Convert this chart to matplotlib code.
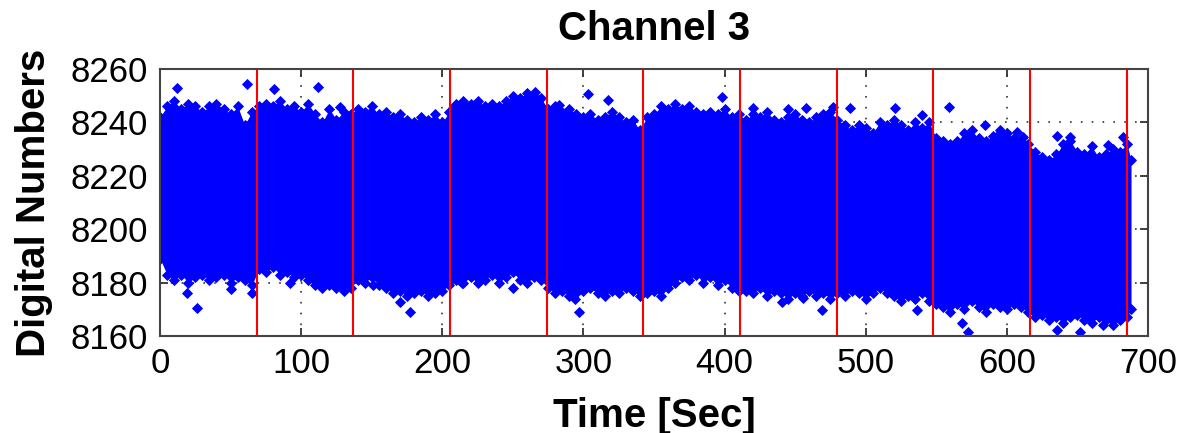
import numpy as np
import matplotlib
matplotlib.use("Agg")
import matplotlib.pyplot as plt

plt.rcParams['font.family'] = ['Liberation Sans', 'DejaVu Sans']

# Sample times (s) at which the envelope of the dense sample cloud is given
edge_t = [0, 5, 10, 15, 20, 25, 30, 35, 40, 45, 50, 55, 60, 65,
          70, 75, 80, 85, 90, 95, 100, 105, 110, 115, 120, 125, 130, 135,
          140, 145, 150, 155, 160, 165, 170, 175, 180, 185, 190, 195, 200,
          205, 210, 215, 220, 225, 230, 235, 240, 245, 250, 255, 260, 265, 270,
          275, 280, 285, 290, 295, 300, 305, 310, 315, 320, 325, 330, 335, 340,
          345, 350, 355, 360, 365, 370, 375, 380, 385, 390, 395, 400, 405, 410,
          415, 420, 425, 430, 435, 440, 445, 450, 455, 460, 465, 470, 475,
          480, 485, 490, 495, 500, 505, 510, 515, 520, 525, 530, 535, 540, 545,
          550, 555, 560, 565, 570, 575, 580, 585, 590, 595, 600, 605, 610, 615,
          620, 625, 630, 635, 640, 645, 650, 655, 660, 665, 670, 675, 680, 685, 688]

# Upper envelope of the digital numbers
edge_top = [8242, 8246, 8248, 8245, 8247, 8246, 8244, 8246, 8247, 8245, 8243, 8246, 8239, 8244,
            8246, 8247, 8246, 8248, 8245, 8246, 8244, 8247, 8243, 8240, 8245, 8241, 8244, 8243,
            8245, 8244, 8246, 8243, 8244, 8242, 8243, 8241, 8240, 8242, 8241, 8243, 8240,
            8244, 8247, 8248, 8247, 8248, 8246, 8247, 8246, 8248, 8250, 8249, 8251, 8250, 8249,
            8245, 8246, 8244, 8245, 8243, 8242, 8243, 8241, 8242, 8244, 8242, 8240, 8241, 8237,
            8242, 8243, 8246, 8245, 8247, 8245, 8246, 8244, 8243, 8244, 8243, 8245, 8242, 8243,
            8241, 8243, 8242, 8244, 8241, 8240, 8242, 8243, 8241, 8240, 8242, 8243, 8244,
            8241, 8239, 8237, 8239, 8238, 8236, 8240, 8239, 8241, 8239, 8237, 8240, 8238, 8240,
            8234, 8233, 8232, 8233, 8236, 8237, 8234, 8233, 8235, 8237, 8236, 8234, 8233, 8232,
            8229, 8227, 8226, 8228, 8232, 8233, 8229, 8228, 8231, 8227, 8228, 8230, 8229, 8232, 8226]

# Lower envelope of the digital numbers
edge_bottom = [8189, 8183, 8181, 8183, 8180, 8182, 8183, 8181, 8182, 8183, 8180, 8182, 8181, 8179,
               8185, 8184, 8186, 8183, 8184, 8182, 8183, 8181, 8179, 8178, 8179, 8178, 8177, 8178,
               8181, 8180, 8182, 8179, 8178, 8176, 8177, 8175, 8176, 8177, 8175, 8176, 8177,
               8179, 8181, 8180, 8182, 8180, 8181, 8183, 8180, 8182, 8184, 8181, 8180, 8182, 8181,
               8178, 8176, 8177, 8175, 8176, 8177, 8178, 8176, 8175, 8177, 8176, 8178, 8177, 8175,
               8176, 8177, 8175, 8178, 8180, 8182, 8181, 8183, 8180, 8182, 8179, 8181, 8178, 8177,
               8177, 8176, 8178, 8175, 8177, 8176, 8174, 8176, 8175, 8177, 8175, 8176, 8174,
               8176, 8175, 8177, 8176, 8174, 8176, 8178, 8176, 8175, 8173, 8175, 8174, 8176, 8173,
               8172, 8171, 8169, 8172, 8170, 8173, 8171, 8169, 8172, 8171, 8170, 8172, 8171, 8169,
               8167, 8168, 8166, 8167, 8165, 8167, 8168, 8166, 8165, 8167, 8166, 8164, 8166, 8167, 8170]

# Isolated samples outside the envelope
high_t = [12, 61.6, 80.8, 112, 127.5, 207.6, 266, 283, 303, 317.5, 398, 420, 445, 458,
          477, 489, 521, 540, 559, 584.5, 593, 607, 611.5, 635.5, 645, 672, 682]
high_v = [8252.9, 8254.4, 8252.5, 8253.3, 8245.8, 8245.4, 8251.5, 8246.5, 8250.6, 8248.4,
          8249.5, 8245.4, 8245.0, 8245.4, 8245.8, 8245.4, 8245.4, 8242.8, 8245.8, 8239.0,
          8235.0, 8236.4, 8234.5, 8235.0, 8234.5, 8231.5, 8234.5]
low_t = [19, 26, 50, 65, 92, 151, 170, 177, 214, 250, 294, 297, 440.7, 455.6, 469,
         536, 568, 572.5, 635.5, 652, 668]
low_v = [8176.0, 8170.5, 8177.6, 8176.0, 8180.0, 8179.0, 8172.7, 8169.0, 8180.0, 8178.0,
         8174.0, 8169.0, 8172.7, 8174.2, 8169.7, 8169.7, 8165.0, 8161.5, 8162.2, 8161.5, 8164.0]

# Times of the red segment markers
marker_times = [68.5, 137, 205.5, 274, 342.5, 411, 479.5, 548, 616.5, 685]

x_ticks = [0, 100, 200, 300, 400, 500, 600, 700]
y_ticks = [8160, 8180, 8200, 8220, 8240, 8260]

blue = '#0000ff'
ms = 5.0

fig = plt.figure(figsize=(11.82, 4.33), dpi=100)
ax = fig.add_axes([0.1354, 0.224, 0.8358, 0.6166])

ax.fill_between(edge_t, edge_bottom, edge_top, color=blue, lw=0, zorder=2)
ax.plot(edge_t, edge_top, 'D', color=blue, ms=ms, mew=0.6, zorder=2)
ax.plot(edge_t, edge_bottom, 'D', color=blue, ms=ms, mew=0.6, zorder=2)
ax.plot(high_t, high_v, 'D', color=blue, ms=ms, mew=0.6, zorder=2)
ax.plot(low_t, low_v, 'D', color=blue, ms=ms, mew=0.6, zorder=2)

for t in marker_times:
    ax.axvline(t, color='#ff0000', lw=1.5, zorder=3)

ax.set_xlim(0, 700)
ax.set_ylim(8160, 8260)
ax.set_xticks(x_ticks)
ax.set_yticks(y_ticks)
ax.grid(True, color='#333333', lw=1.2, linestyle=(0, (1, 5.5)), zorder=0.5)
ax.set_axisbelow(True)

ax.tick_params(direction='in', length=6, width=1.3, top=True, right=True,
               labelsize=25, colors='#333333', labelcolor='black')
ax.tick_params(axis='x', pad=8)
ax.tick_params(axis='y', pad=9)
for s in ax.spines.values():
    s.set_linewidth(1.5)
    s.set_color('#444444')
    s.set_zorder(4)

ax.set_title('Channel 3', fontsize=29, fontweight='bold', pad=21)
ax.set_xlabel('Time [Sec]', fontsize=29, fontweight='bold', labelpad=12)
ax.set_ylabel('Digital Numbers', fontsize=29, fontweight='bold', labelpad=12)

fig.savefig('out.png', dpi=100)
